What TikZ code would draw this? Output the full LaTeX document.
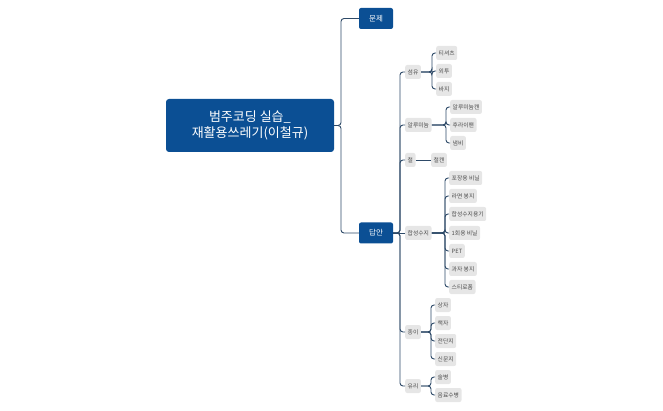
\documentclass[tikz,border=0pt]{standalone}
\usepackage{fontspec}
\setmainfont{Noto Sans CJK KR}
\definecolor{mblue}{HTML}{0B4F94}
\definecolor{mline}{HTML}{2E4A68}
\definecolor{mgray}{HTML}{E6E6E6}
\begin{document}
\begin{tikzpicture}[x=1pt,y=-1pt,
  rootbox/.style={fill=mblue,text=white,rounded corners=3pt,font=\fontsize{13}{16}\selectfont,align=center,minimum width=168pt,minimum height=53pt,inner sep=2pt},
  topic/.style={fill=mblue,text=white,rounded corners=2pt,font=\fontsize{7.5}{8}\selectfont,minimum width=34pt,minimum height=21pt,inner sep=1pt},
  sub/.style={fill=mgray,text=black!70,rounded corners=2pt,font=\fontsize{5.8}{6}\selectfont,minimum height=14pt,inner sep=2.5pt,anchor=west},
  conn/.style={draw=mline,line width=0.9pt,rounded corners=3pt}]
\useasboundingbox (0,0) rectangle (663,411);
\node[rootbox] (root) at (250,125.5) {범주코딩 실습\_\\재활용쓰레기(이철규)};
\node[topic] (q) at (376,18.5) {문제};
\node[topic] (a) at (376,233) {답안};
\draw[conn] (root.east) -- (341,125.5) |- (q.west);
\draw[conn] (root.east) -- (341,125.5) |- (a.west);
% level 2
\foreach \n/\t/\y in {b1/섬유/72,b2/알루미늄/125,b3/철/160,b4/합성수지/233,b5/종이/332,b6/유리/386}
  \node[sub] (\n) at (405,\y) {\t};
\foreach \n in {b1,b2,b3,b5,b6} \draw[conn] (a.east) -- (400,233) |- (\n.west);
\draw[conn] (a.east) -- (b4.west);
% level 3
\newcommand\kids[3]{% parent, trunk x, list
  \foreach \nm/\t/\y in {#3} {
    \node[sub] (\nm) at (#2+4,\y) {\t};
    \draw[conn] (#1.east) -- (#2,\y |- #1.east) |- (\nm.west);}}
\kids{b1}{432}{c1/티셔츠/53,c2/외투/71,c3/바지/89}
\kids{b2}{446}{c4/알루미늄캔/107,c5/후라이팬/125,c6/냄비/143}
\node[sub] (c7) at (431,160) {철캔};
\draw[conn] (b3.east) -- (c7.west);
\kids{b4}{445}{c8/포장용 비닐/178,c9/라면 봉지/196,c10/합성수지용기/214,c11/1회용 비닐/233,c12/PET/251,c13/과자 봉지/269,c14/스티로폼/287}
\kids{b5}{431}{c15/상자/305,c16/책자/323,c17/전단지/341,c18/신문지/359}
\kids{b6}{431}{c19/술병/377,c20/음료수병/395}
\end{tikzpicture}
\end{document}
